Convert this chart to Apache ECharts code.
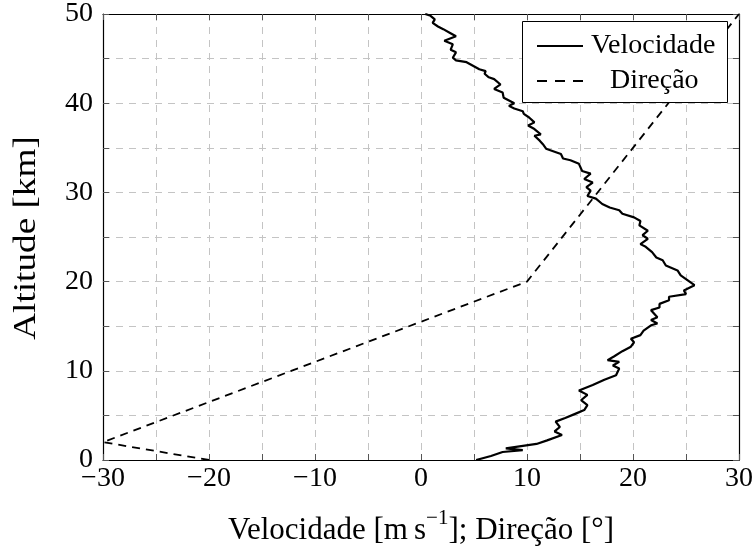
<!DOCTYPE html>
<html>
<head>
<meta charset="utf-8">
<script src="https://cdn.jsdelivr.net/npm/echarts@6/dist/echarts.min.js"></script>
<style>
  html, body { margin: 0; padding: 0; background: #fff; }
  #chart { width: 756px; height: 554px; }
</style>
</head>
<body>
<div id="chart"></div>
<script>
// Wind speed profile: altitude (km) and speed (m/s)
const velAltitude = [
  0.0, 0.45, 0.9, 1.1, 1.3, 1.8, 2.2, 2.8, 3.2, 3.7, 4.3, 4.7, 5.2, 5.6, 6.15, 6.7, 7.3, 7.8, 8.4, 9.0,
  9.5, 10.25, 10.6, 11.0, 11.2, 11.6, 12.2, 12.7, 13.2, 13.6, 14.0, 14.5, 15.1, 15.3, 15.7, 16.0, 16.8, 17.1, 17.5, 17.9,
  18.3, 18.6, 19.0, 19.6, 20.2, 20.7, 21.25, 21.8, 22.4, 22.7, 23.3, 23.9, 24.2, 24.8, 25.2, 25.7, 26.3, 26.8, 27.2, 27.6,
  28.0, 28.3, 28.7, 29.3, 29.6, 30.2, 30.6, 31.1, 31.5, 32.1, 32.4, 33.2, 33.6, 33.8, 34.3, 34.9, 35.4, 35.8, 36.35, 36.5,
  37.1, 37.5, 37.85, 38.4, 38.8, 39.1, 39.4, 39.7, 40.0, 40.3, 40.6, 41.2, 41.6, 42.1, 42.7, 42.9, 43.3, 43.6, 43.8, 44.2,
  44.6, 44.8, 45.1, 45.7, 46.0, 46.6, 47.0, 47.5, 47.9, 48.3, 48.6, 49.0, 49.4, 49.8, 50.0
];
const velSpeed = [
  5.2, 6.6, 7.7, 9.6, 8.0, 10.9, 11.9, 13.3, 12.6, 13.1, 12.7, 13.6, 14.6, 15.4, 15.7, 15.1, 15.7, 14.9, 16.2, 17.3,
  18.4, 18.7, 18.1, 18.7, 17.6, 18.2, 19.0, 19.8, 20.1, 19.8, 20.7, 21.0, 21.7, 22.3, 21.7, 22.3, 21.7, 22.5, 22.5, 23.4,
  23.4, 25.0, 24.8, 25.8, 25.1, 24.5, 24.2, 23.1, 22.8, 22.2, 21.8, 21.2, 20.7, 21.4, 20.9, 21.4, 20.6, 20.7, 20.1, 19.0,
  18.7, 17.8, 17.1, 16.5, 15.7, 16.0, 15.6, 16.2, 15.4, 16.0, 15.2, 14.9, 14.1, 13.4, 13.2, 11.8, 11.5, 11.2, 10.7, 11.3,
  10.7, 10.1, 10.7, 10.2, 9.7, 9.6, 8.8, 8.3, 8.8, 8.3, 7.8, 7.7, 6.9, 7.5, 6.9, 6.4, 6.0, 6.1, 5.5, 4.9,
  4.3, 3.3, 3.0, 3.3, 2.8, 3.0, 2.2, 3.3, 2.7, 2.1, 1.6, 1.1, 1.3, 0.9, 0.4
];

// Wind direction profile: altitude (km) and direction (degrees)
const dirAltitude = [0, 2, 20, 50];
const dirValue = [-20, -30, 10, 30];

// Axis ranges and tick spacing
const xRange = [-30, 30];
const yRange = [0, 50];
const tickStep = 5;
const labelStep = 10;

const FONT = '"Liberation Serif", "Times New Roman", serif';
const minus = v => String(v).replace('-', '\u2212');

const velData = velAltitude.map((a, i) => [velSpeed[i], a]);
const dirData = dirAltitude.map((a, i) => [dirValue[i], a]);

const gridLine = { show: true, lineStyle: { color: '#c4c4c4', width: 1, type: [7, 6] } };
const frame = { show: true, onZero: false, lineStyle: { color: '#000', width: 1.2 } };
const ticksIn = { show: true, inside: true, length: 6, lineStyle: { color: '#555', width: 1 } };

function xAx(pos, main) {
  return {
    type: 'value', position: pos, min: xRange[0], max: xRange[1], interval: tickStep,
    axisLine: frame, axisTick: ticksIn, splitLine: main ? gridLine : { show: false },
    axisLabel: main ? {
      show: true, margin: 5, color: '#000', fontFamily: FONT, fontSize: 28,
      formatter: v => (v % labelStep === 0 ? minus(v) : '')
    } : { show: false },
    name: main ? '{b|Velocidade [m\u2009s}{sup|\u22121}{b|]; Direção [°]}' : '',
    nameLocation: 'middle', nameGap: 55,
    nameTextStyle: {
      color: '#000', fontFamily: FONT, fontSize: 31,
      rich: {
        b: { fontFamily: FONT, fontSize: 31, lineHeight: 31, verticalAlign: 'bottom', color: '#000' },
        sup: { fontFamily: FONT, fontSize: 21, lineHeight: 21, verticalAlign: 'bottom', padding: [0, 0, 17, 0], color: '#000' }
      }
    }
  };
}
function yAx(pos, main) {
  return {
    type: 'value', position: pos, min: yRange[0], max: yRange[1], interval: tickStep,
    axisLine: frame, axisTick: ticksIn, splitLine: main ? gridLine : { show: false },
    axisLabel: main ? {
      show: true, margin: 10, color: '#000', fontFamily: FONT, fontSize: 28,
      formatter: v => (v % labelStep === 0 ? String(v) : '')
    } : { show: false }
  };
}

const solidIcon = 'path://M0,0h46v2h-46z';
const dashIcon = 'path://M0,0h10v2h-10z M18,0h10v2h-10z M36,0h10v2h-10z';

const chart = echarts.init(document.getElementById('chart'), null, { renderer: 'canvas' });
chart.setOption({
  animation: false,
  backgroundColor: '#fff',
  grid: { left: 103, right: 16, top: 13, bottom: 94, containLabel: false },
  xAxis: [xAx('bottom', true), xAx('top', false)],
  yAxis: [yAx('left', true), yAx('right', false)],
  graphic: [
    {
      // vertical axis title, drawn slightly taller than wide
      type: 'text', x: 27, y: 238, rotation: Math.PI / 2, scaleX: 1.2, z: 5,
      style: {
        text: 'Altitude [km]', fill: '#000',
        font: '31px "Liberation Serif", "Times New Roman", serif',
        align: 'center', verticalAlign: 'middle'
      }
    },
    {
      type: 'rect', left: 522, top: 21, z: 5,
      shape: { width: 205, height: 81 },
      style: { fill: '#fff', stroke: '#000', lineWidth: 1 }
    }
  ],
  legend: {
    orient: 'vertical', left: 532, top: 27, z: 10,
    itemWidth: 46, itemHeight: 2, itemGap: 7,
    data: [
      { name: 'Velocidade', icon: solidIcon },
      { name: 'Direção', icon: dashIcon }
    ],
    itemStyle: { color: '#000', borderWidth: 0 },
    formatter: n => (n === 'Direção' ? '{d|' + n + '}' : '{v|' + n + '}'),
    textStyle: {
      color: '#000', fontFamily: FONT, fontSize: 28, lineHeight: 28,
      rich: {
        v: { fontFamily: FONT, fontSize: 28, lineHeight: 28, color: '#000', padding: [0, 0, 0, 3] },
        d: { fontFamily: FONT, fontSize: 28, lineHeight: 28, color: '#000', padding: [0, 0, 0, 22] }
      }
    },
    selectedMode: false
  },
  series: [
    {
      name: 'Velocidade', type: 'line', data: velData, xAxisIndex: 0, yAxisIndex: 0,
      showSymbol: false, symbol: 'none', z: 3,
      lineStyle: { color: '#000', width: 2.2, type: 'solid' },
      itemStyle: { color: '#000' }
    },
    {
      name: 'Direção', type: 'line', data: dirData, xAxisIndex: 0, yAxisIndex: 0,
      showSymbol: false, symbol: 'none', z: 3,
      lineStyle: { color: '#000', width: 1.8, type: [8, 6] },
      itemStyle: { color: '#000' }
    }
  ]
});
</script>
</body>
</html>
